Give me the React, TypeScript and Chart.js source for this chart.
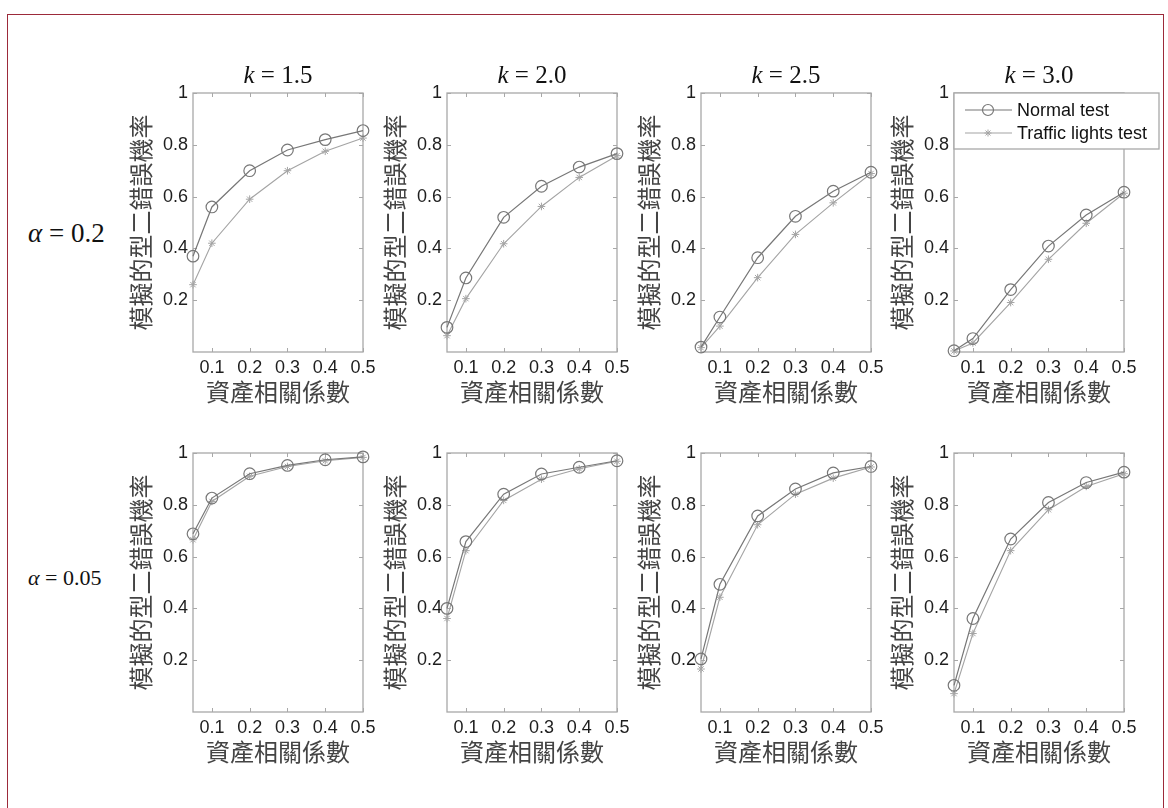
import React, { useEffect, useRef } from 'react';
import { Chart, registerables } from 'chart.js';

Chart.register(...registerables);

// ---------- data ----------
const CORRELATIONS = [0.05, 0.1, 0.2, 0.3, 0.4, 0.5];
const X_TICKS = [0.1, 0.2, 0.3, 0.4, 0.5];
const Y_TICKS = [0.2, 0.4, 0.6, 0.8, 1];
const K_LABELS = ['1.5', '2.0', '2.5', '3.0'];
const ALPHA_LABELS = ['0.2', '0.05'];
const SERIES_NAMES = ['Normal test', 'Traffic lights test'];
const X_TITLE = '資產相關係數';
const Y_TITLE = '模擬的型二錯誤機率';

// alpha = 0.2
const normalA02K15 = [0.37, 0.56, 0.70, 0.78, 0.82, 0.855];
const trafficA02K15 = [0.26, 0.42, 0.59, 0.70, 0.775, 0.826];
const normalA02K20 = [0.095, 0.286, 0.52, 0.64, 0.714, 0.766];
const trafficA02K20 = [0.063, 0.206, 0.418, 0.562, 0.674, 0.758];
const normalA02K25 = [0.019, 0.135, 0.364, 0.524, 0.621, 0.694];
const trafficA02K25 = [0.017, 0.10, 0.287, 0.454, 0.576, 0.689];
const normalA02K30 = [0.005, 0.052, 0.241, 0.409, 0.529, 0.617];
const trafficA02K30 = [0.004, 0.035, 0.191, 0.358, 0.497, 0.613];

// alpha = 0.05
const normalA005K15 = [0.688, 0.826, 0.92, 0.952, 0.974, 0.985];
const trafficA005K15 = [0.665, 0.813, 0.91, 0.948, 0.97, 0.983];
const normalA005K20 = [0.40, 0.658, 0.841, 0.919, 0.945, 0.970];
const trafficA005K20 = [0.361, 0.623, 0.817, 0.899, 0.939, 0.968];
const normalA005K25 = [0.205, 0.493, 0.757, 0.861, 0.923, 0.948];
const trafficA005K25 = [0.166, 0.443, 0.723, 0.841, 0.903, 0.946];
const normalA005K30 = [0.103, 0.361, 0.668, 0.809, 0.886, 0.926];
const trafficA005K30 = [0.071, 0.303, 0.623, 0.781, 0.871, 0.92];

const NORMAL = [
  [normalA02K15, normalA02K20, normalA02K25, normalA02K30],
  [normalA005K15, normalA005K20, normalA005K25, normalA005K30],
];
const TRAFFIC = [
  [trafficA02K15, trafficA02K20, trafficA02K25, trafficA02K30],
  [trafficA005K15, trafficA005K20, trafficA005K25, trafficA005K30],
];

// ---------- layout / style ----------
const PLOT_LEFTS = [193, 447, 701, 954];
const PLOT_TOPS = [93, 453];
const PLOT_W = 170;
const PLOT_H = 259;
const PAD_LEFT = 80;
const PAD_TOP = 45;
const PAD_RIGHT = 45;
const PAD_BOTTOM = 70;

const SANS = '"Liberation Sans", Arial, sans-serif';
const SERIF = '"Liberation Serif", "Times New Roman", serif';
const CJK = '"Noto Sans CJK TC", "Noto Sans CJK SC", sans-serif';
const BOX_COLOR = '#a8a8a8';
const NORMAL_COLOR = '#777777';
const TRAFFIC_COLOR = '#a4a4a4';
const TICK_COLOR = '#1e1e1e';
const CJK_COLOR = '#444444';

function drawStar(ctx: CanvasRenderingContext2D, x: number, y: number, r: number) {
  ctx.beginPath();
  for (let i = 0; i < 4; i++) {
    const a = (i * Math.PI) / 4;
    ctx.moveTo(x - r * Math.cos(a), y - r * Math.sin(a));
    ctx.lineTo(x + r * Math.cos(a), y + r * Math.sin(a));
  }
  ctx.stroke();
}

function makePanelPlugin(row: number, col: number) {
  return {
    id: 'panelDecor',
    beforeDatasetsDraw(chart: any) {
      const ctx: CanvasRenderingContext2D = chart.ctx;
      const { left, right, top, bottom } = chart.chartArea;
      const xs = chart.scales.x;
      const ys = chart.scales.y;
      ctx.save();
      ctx.strokeStyle = BOX_COLOR;
      ctx.lineWidth = 1.3;
      ctx.strokeRect(left, top, right - left, bottom - top);
      ctx.lineWidth = 1;
      ctx.beginPath();
      X_TICKS.forEach((v) => {
        const px = Math.round(xs.getPixelForValue(v)) + 0.5;
        ctx.moveTo(px, bottom);
        ctx.lineTo(px, bottom - 4);
        ctx.moveTo(px, top);
        ctx.lineTo(px, top + 4);
      });
      Y_TICKS.forEach((v) => {
        const py = Math.round(ys.getPixelForValue(v)) + 0.5;
        ctx.moveTo(left, py);
        ctx.lineTo(left + 4, py);
        ctx.moveTo(right, py);
        ctx.lineTo(right - 4, py);
      });
      ctx.stroke();
      ctx.restore();
    },
    afterDraw(chart: any) {
      const ctx: CanvasRenderingContext2D = chart.ctx;
      const { left, right, top } = chart.chartArea;
      ctx.save();
      if (row === 0) {
        // subplot title: k = x.x
        const cx = (left + right) / 2;
        const baseY = top - 10;
        ctx.fillStyle = '#111';
        ctx.textBaseline = 'alphabetic';
        ctx.font = `italic 25px ${SERIF}`;
        const kW = ctx.measureText('k').width;
        ctx.font = `25px ${SERIF}`;
        const rest = ' = ' + K_LABELS[col];
        const rW = ctx.measureText(rest).width;
        const x0 = cx - (kW + rW) / 2;
        ctx.font = `italic 25px ${SERIF}`;
        ctx.fillText('k', x0, baseY);
        ctx.font = `25px ${SERIF}`;
        ctx.fillText(rest, x0 + kW, baseY);
      }
      if (row === 0 && col === 3) {
        // legend
        const lx = left;
        const ly = top;
        const lw = 205;
        const lh = 56;
        ctx.fillStyle = '#ffffff';
        ctx.fillRect(lx, ly, lw, lh);
        ctx.strokeStyle = BOX_COLOR;
        ctx.lineWidth = 1.3;
        ctx.strokeRect(lx, ly, lw, lh);
        const entries = [
          { color: NORMAL_COLOR, y: ly + 17, marker: 'circle' },
          { color: TRAFFIC_COLOR, y: ly + 40, marker: 'star' },
        ];
        entries.forEach((e, i) => {
          ctx.strokeStyle = e.color;
          ctx.lineWidth = 1.2;
          ctx.beginPath();
          ctx.moveTo(lx + 11, e.y);
          ctx.lineTo(lx + 58, e.y);
          ctx.stroke();
          if (e.marker === 'circle') {
            ctx.beginPath();
            ctx.arc(lx + 34, e.y, 5.5, 0, Math.PI * 2);
            ctx.stroke();
          } else {
            ctx.lineWidth = 1;
            drawStar(ctx, lx + 34, e.y, 3.5);
          }
          ctx.fillStyle = '#111';
          ctx.font = `18px ${SANS}`;
          ctx.textBaseline = 'middle';
          ctx.fillText(SERIES_NAMES[i], lx + 63, e.y + 1);
        });
      }
      ctx.restore();
    },
  };
}

function Panel({ row, col }: { row: number; col: number }) {
  const ref = useRef<HTMLCanvasElement | null>(null);
  useEffect(() => {
    if (!ref.current) return;
    const normal = NORMAL[row][col];
    const traffic = TRAFFIC[row][col];
    const chart = new Chart(ref.current, {
      type: 'line',
      data: {
        datasets: [
          {
            label: SERIES_NAMES[0],
            data: CORRELATIONS.map((x, i) => ({ x, y: normal[i] })),
            borderColor: NORMAL_COLOR,
            borderWidth: 1.2,
            pointStyle: 'circle',
            pointRadius: 5.8,
            pointBorderColor: NORMAL_COLOR,
            pointBackgroundColor: 'rgba(0,0,0,0)',
            pointBorderWidth: 1.2,
            tension: 0,
            clip: false,
          } as any,
          {
            label: SERIES_NAMES[1],
            data: CORRELATIONS.map((x, i) => ({ x, y: traffic[i] })),
            borderColor: TRAFFIC_COLOR,
            borderWidth: 1.1,
            pointStyle: 'star',
            pointRadius: 3.8,
            pointBorderColor: TRAFFIC_COLOR,
            pointBackgroundColor: 'rgba(0,0,0,0)',
            pointBorderWidth: 1,
            tension: 0,
            clip: false,
          } as any,
        ],
      },
      options: {
        animation: false,
        responsive: false,
        maintainAspectRatio: false,
        devicePixelRatio: 1,
        events: [],
        layout: { padding: { top: PAD_TOP, right: PAD_RIGHT, left: 0, bottom: 0 } },
        plugins: {
          legend: { display: false },
          tooltip: { enabled: false },
          title: { display: false },
        },
        scales: {
          x: {
            type: 'linear',
            min: 0.05,
            max: 0.5,
            grid: { display: false, drawTicks: false },
            border: { display: false },
            afterBuildTicks: (s: any) => {
              s.ticks = X_TICKS.map((v) => ({ value: v }));
            },
            afterFit: (s: any) => {
              s.height = PAD_BOTTOM;
            },
            ticks: {
              autoSkip: false,
              maxRotation: 0,
              padding: 5,
              color: TICK_COLOR,
              font: { family: SANS, size: 18 },
              callback: (v: any) => String(v),
            },
            title: {
              display: true,
              text: X_TITLE,
              color: CJK_COLOR,
              font: { family: CJK, size: 24, lineHeight: 1 },
              padding: { top: 0, bottom: 18 },
            },
          },
          y: {
            type: 'linear',
            min: 0,
            max: 1,
            grid: { display: false, drawTicks: false },
            border: { display: false },
            afterBuildTicks: (s: any) => {
              s.ticks = Y_TICKS.map((v) => ({ value: v }));
            },
            afterFit: (s: any) => {
              s.width = PAD_LEFT;
            },
            ticks: {
              autoSkip: false,
              padding: 5,
              color: TICK_COLOR,
              font: { family: SANS, size: 18 },
              callback: (v: any) => String(v),
            },
            title: {
              display: true,
              text: Y_TITLE,
              color: CJK_COLOR,
              font: { family: CJK, size: 24, lineHeight: 1 },
              padding: { top: 16, bottom: 0 },
            },
          },
        },
      } as any,
      plugins: [makePanelPlugin(row, col)],
    });
    return () => chart.destroy();
  }, [row, col]);

  const w = PAD_LEFT + PLOT_W + PAD_RIGHT;
  const h = PAD_TOP + PLOT_H + PAD_BOTTOM;
  return (
    <canvas
      ref={ref}
      width={w}
      height={h}
      style={{
        position: 'absolute',
        left: PLOT_LEFTS[col] - PAD_LEFT,
        top: PLOT_TOPS[row] - PAD_TOP,
        width: w,
        height: h,
      }}
    />
  );
}

function AlphaLabel({ value, top, size }: { value: string; top: number; size: number }) {
  return (
    <div
      style={{
        position: 'absolute',
        left: 28,
        top,
        fontFamily: SERIF,
        fontSize: size,
        lineHeight: 1,
        color: '#111',
        whiteSpace: 'nowrap',
      }}
    >
      <span style={{ fontStyle: 'italic' }}>α</span> = {value}
    </div>
  );
}

export default function App() {
  const panels: JSX.Element[] = [];
  for (let r = 0; r < 2; r++) {
    for (let c = 0; c < 4; c++) {
      panels.push(<Panel key={`${r}-${c}`} row={r} col={c} />);
    }
  }
  return (
    <div
      style={{
        position: 'absolute',
        left: 0,
        top: 0,
        width: 1168,
        height: 808,
        overflow: 'hidden',
        background: '#ffffff',
      }}
    >
      <div
        style={{
          position: 'absolute',
          left: 7,
          top: 14,
          width: 1157,
          height: 820,
          border: '1.5px solid #9c2a3a',
          boxSizing: 'border-box',
        }}
      />
      <AlphaLabel value={ALPHA_LABELS[0]} top={220} size={27} />
      <AlphaLabel value={ALPHA_LABELS[1]} top={567} size={22} />
      {panels}
    </div>
  );
}
